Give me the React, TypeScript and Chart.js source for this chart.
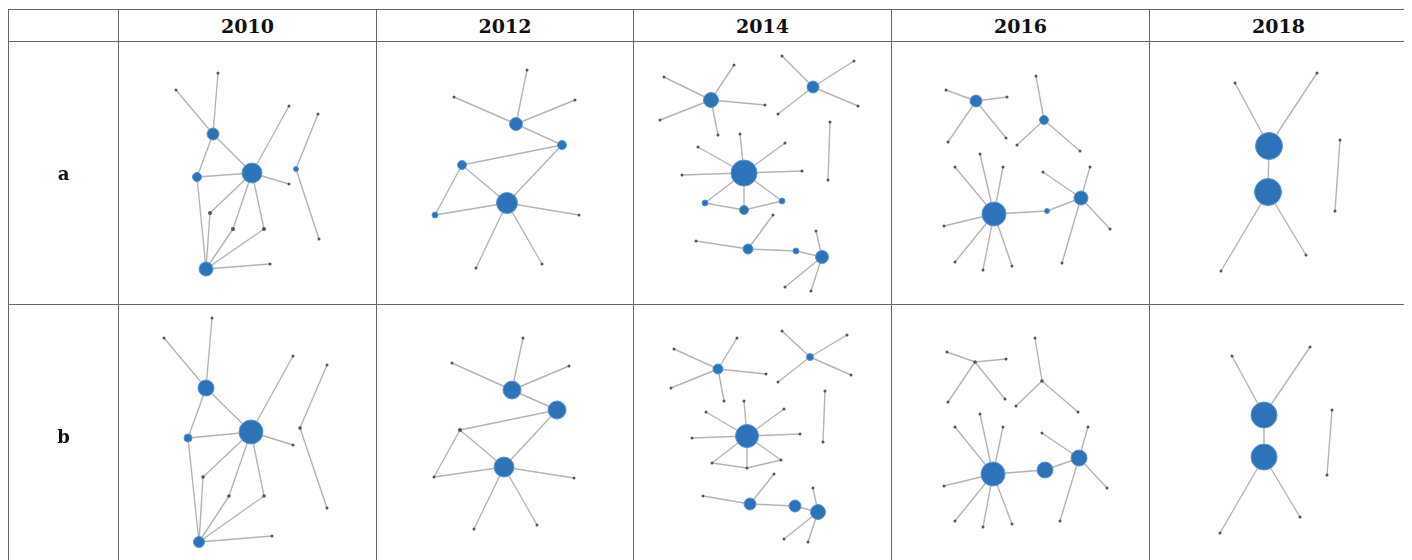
import React, { useEffect, useRef } from "react";
import { Chart, registerables } from "chart.js";
Chart.register(...registerables);

// ---- data ----
const YEARS = ["2010", "2012", "2014", "2016", "2018"];
const ROW_LABELS = ["a", "b"];

type Node = [number, number, number]; // x, y, size
type Edge = [number, number];

const NODES_2010_A: Node[] = [
  [134, 132, 10], [95, 93, 6], [79, 136, 4.5], [88, 228, 7], [100, 32, 1.5], [58, 49, 1.5],
  [171, 65, 1.5], [171, 143, 1.5], [92, 172, 2], [115, 188, 2], [146, 188, 2], [152, 223, 1.5],
  [200, 73, 1.5], [178, 128, 2.5], [201, 198, 1.5],
];
const NODES_2010_B: Node[] = [
  [133, 128, 12], [88, 84, 8], [70, 134, 4], [81, 238, 5.5], [94, 14, 1.5], [46, 34, 1.5],
  [175, 52, 1.5], [175, 141, 1.5], [85, 173, 1.8], [111, 192, 1.8], [146, 192, 1.8], [154, 232, 1.5],
  [209, 61, 1.5], [182, 124, 1.8], [209, 204, 1.5],
];
const EDGES_2010: Edge[] = [
  [4, 1], [5, 1], [1, 0], [1, 2], [2, 0], [2, 3], [0, 6], [0, 7], [0, 8], [0, 9], [0, 10],
  [3, 8], [3, 9], [3, 10], [3, 11], [12, 13], [13, 14],
];

const NODES_2012_A: Node[] = [
  [140, 83, 6.5], [186, 104, 4.5], [86, 124, 4.5], [131, 162, 10.5], [59, 174, 3],
  [151, 29, 1.5], [78, 56, 1.5], [199, 59, 1.5], [203, 174, 1.5], [100, 227, 1.5], [166, 223, 1.5],
];
const NODES_2012_B: Node[] = [
  [136, 86, 9], [181, 106, 9], [84, 126, 2], [128, 163, 10], [58, 173, 1.5],
  [147, 34, 1.5], [76, 59, 1.5], [193, 62, 1.5], [198, 174, 1.5], [98, 225, 1.5], [161, 221, 1.5],
];
const EDGES_2012: Edge[] = [
  [0, 5], [0, 6], [0, 7], [0, 1], [1, 2], [1, 3], [2, 3], [2, 4], [4, 3], [3, 8], [3, 9], [3, 10],
];

const NODES_2014_A: Node[] = [
  [78, 59, 7.5], [101, 24, 1.5], [31, 36, 1.5], [132, 64, 1.5], [27, 79, 1.5], [85, 94, 1.5],
  [180, 46, 6], [149, 15, 1.5], [221, 20, 1.5], [225, 65, 1.5], [145, 73, 1.5],
  [197, 81, 1.5], [195, 139, 1.5],
  [111, 132, 13], [107, 93, 1.5], [65, 106, 1.5], [152, 102, 1.5], [49, 134, 1.5], [169, 130, 1.5],
  [72, 162, 3], [111, 169, 4.5], [149, 160, 3],
  [115, 208, 5], [63, 200, 1.5], [140, 174, 1.5], [163, 210, 3], [189, 216, 6.5],
  [183, 190, 1.5], [152, 246, 1.5], [178, 250, 1.5],
];
const NODES_2014_B: Node[] = [
  [85, 65, 5], [104, 34, 1.5], [41, 45, 1.5], [133, 70, 1.5], [38, 84, 1.5], [91, 97, 1.5],
  [177, 53, 3.5], [149, 27, 1.5], [214, 31, 1.5], [218, 71, 1.5], [145, 78, 1.5],
  [192, 87, 1.5], [190, 138, 1.5],
  [114, 132, 11.5], [111, 97, 1.5], [73, 108, 1.5], [151, 105, 1.5], [59, 134, 1.5], [167, 130, 1.5],
  [79, 159, 1.5], [114, 164, 1.5], [148, 156, 1.5],
  [117, 200, 6], [70, 192, 1.5], [141, 170, 1.5], [162, 202, 6], [185, 208, 7.5],
  [180, 184, 1.5], [151, 235, 1.5], [175, 238, 1.5],
];
const EDGES_2014: Edge[] = [
  [0, 1], [0, 2], [0, 3], [0, 4], [0, 5], [6, 7], [6, 8], [6, 9], [6, 10], [11, 12],
  [13, 14], [13, 15], [13, 16], [13, 17], [13, 18], [13, 19], [13, 20], [13, 21], [19, 20], [20, 21],
  [22, 23], [22, 24], [22, 25], [25, 26], [26, 27], [26, 28], [26, 29],
];

const NODES_2016_A: Node[] = [
  [85, 60, 6], [55, 49, 1.5], [116, 56, 1.5], [57, 101, 1.5], [115, 97, 1.5],
  [153, 79, 4.5], [145, 35, 1.5], [126, 104, 1.5], [189, 110, 1.5],
  [103, 173, 12], [89, 113, 1.5], [64, 126, 1.5], [112, 126, 1.5], [53, 185, 1.5], [64, 221, 1.5],
  [92, 229, 1.5], [121, 225, 1.5],
  [156, 170, 2.5], [190, 157, 7], [152, 131, 1.5], [199, 126, 1.5], [219, 188, 1.5], [171, 222, 1.5],
];
const NODES_2016_B: Node[] = [
  [84, 58, 1.8], [56, 48, 1.5], [115, 55, 1.5], [57, 98, 1.5], [114, 95, 1.5],
  [151, 77, 1.8], [144, 34, 1.5], [125, 102, 1.5], [187, 108, 1.5],
  [102, 170, 12], [89, 110, 1.5], [64, 123, 1.5], [112, 123, 1.5], [53, 182, 1.5], [64, 217, 1.5],
  [92, 223, 1.5], [121, 220, 1.5],
  [154, 166, 8], [188, 154, 8], [151, 129, 1.5], [197, 123, 1.5], [216, 184, 1.5], [169, 217, 1.5],
];
const EDGES_2016: Edge[] = [
  [0, 1], [0, 2], [0, 3], [0, 4], [5, 6], [5, 7], [5, 8],
  [9, 10], [9, 11], [9, 12], [9, 13], [9, 14], [9, 15], [9, 16], [9, 17],
  [17, 18], [18, 19], [18, 20], [18, 21], [18, 22],
];

const NODES_2018_A: Node[] = [
  [120, 105, 13.5], [119, 151, 13.5], [86, 42, 1.5], [168, 32, 1.5], [72, 230, 1.5], [157, 214, 1.5],
  [191, 99, 1.5], [186, 170, 1.5],
];
const NODES_2018_B: Node[] = [
  [115, 111, 13], [115, 153, 13], [83, 52, 1.5], [161, 43, 1.5], [71, 229, 1.5], [151, 213, 1.5],
  [183, 106, 1.5], [178, 171, 1.5],
];
const EDGES_2018: Edge[] = [[0, 2], [0, 3], [0, 1], [1, 4], [1, 5], [6, 7]];

const NETWORKS: { nodes: Node[]; edges: Edge[] }[][] = [
  [
    { nodes: NODES_2010_A, edges: EDGES_2010 },
    { nodes: NODES_2012_A, edges: EDGES_2012 },
    { nodes: NODES_2014_A, edges: EDGES_2014 },
    { nodes: NODES_2016_A, edges: EDGES_2016 },
    { nodes: NODES_2018_A, edges: EDGES_2018 },
  ],
  [
    { nodes: NODES_2010_B, edges: EDGES_2010 },
    { nodes: NODES_2012_B, edges: EDGES_2012 },
    { nodes: NODES_2014_B, edges: EDGES_2014 },
    { nodes: NODES_2016_B, edges: EDGES_2016 },
    { nodes: NODES_2018_B, edges: EDGES_2018 },
  ],
];

// ---- layout ----
const COL_X = [8, 118, 376, 633, 891, 1149, 1407];
const ROW_Y = [9, 41, 304, 567];
const BORDER = "1px solid #666";
const FONT = "'DejaVu Serif', serif";

function NetChart({ nodes, edges, w, h }: { nodes: Node[]; edges: Edge[]; w: number; h: number }) {
  const ref = useRef<HTMLCanvasElement | null>(null);
  useEffect(() => {
    if (!ref.current) return;
    const edgeSets = edges.map(([a, b]) => ({
      data: [
        { x: nodes[a][0], y: nodes[a][1] },
        { x: nodes[b][0], y: nodes[b][1] },
      ],
      showLine: true,
      pointRadius: 0,
      borderColor: "#b4b4b4",
      borderWidth: 1.4,
      order: 1,
    }));
    const nodeSet = {
      data: nodes.map((n) => ({ x: n[0], y: n[1] })),
      showLine: false,
      pointRadius: nodes.map((n) => n[2]),
      pointHoverRadius: nodes.map((n) => n[2]),
      pointBackgroundColor: nodes.map((n) => (n[2] >= 2.5 ? "#2e73b8" : "#50565e")),
      pointBorderColor: nodes.map((n) => (n[2] >= 2.5 ? "#5b95cf" : "#50565e")),
      pointBorderWidth: nodes.map((n) => (n[2] >= 2.5 ? 1 : 0)),
      order: 0,
    };
    const chart = new Chart(ref.current, {
      type: "scatter",
      data: { datasets: [nodeSet as any, ...edgeSets] },
      options: {
        animation: false,
        responsive: false,
        events: [],
        layout: { padding: 0, autoPadding: false } as any,
        plugins: { legend: { display: false }, tooltip: { enabled: false } },
        scales: {
          x: { type: "linear", min: 0, max: w, display: false },
          y: { type: "linear", min: 0, max: h, reverse: true, display: false },
        },
      },
    });
    return () => chart.destroy();
  }, [nodes, edges, w, h]);
  return (
    <canvas
      ref={ref}
      width={w}
      height={h}
      style={{ position: "absolute", left: 0, top: 0, width: w, height: h }}
    />
  );
}

export default function App() {
  const cells: React.ReactNode[] = [];
  const cellBox = (c: number, r: number): React.CSSProperties => ({
    position: "absolute",
    left: COL_X[c] - 8,
    top: ROW_Y[r] - 8,
    width: COL_X[c + 1] - COL_X[c] + 1,
    height: ROW_Y[r + 1] - ROW_Y[r] + 1,
    boxSizing: "border-box",
    border: BORDER,
    display: "flex",
    alignItems: "center",
    justifyContent: "center",
    fontFamily: FONT,
    fontWeight: "bold",
    color: "#111",
  });
  cells.push(<div key="corner" style={cellBox(0, 0)} />);
  YEARS.forEach((yr, i) => {
    cells.push(
      <div key={"h" + yr} style={{ ...cellBox(i + 1, 0), fontSize: 19 }}>
        {yr}
      </div>
    );
  });
  ROW_LABELS.forEach((lab, r) => {
    cells.push(
      <div key={"l" + lab} style={{ ...cellBox(0, r + 1), fontSize: 18 }}>
        {lab}
      </div>
    );
    NETWORKS[r].forEach((net, c) => {
      const w = COL_X[c + 2] - COL_X[c + 1];
      const h = ROW_Y[r + 2] - ROW_Y[r + 1];
      cells.push(
        <div key={"n" + r + c} style={{ ...cellBox(c + 1, r + 1), border: "none", overflow: "hidden" }}>
          <NetChart nodes={net.nodes} edges={net.edges} w={w} h={h} />
        </div>
      );
      cells.push(<div key={"b" + r + c} style={{ ...cellBox(c + 1, r + 1), pointerEvents: "none" }} />);
    });
  });
  return (
    <div style={{ position: "relative", width: 1404, height: 560, overflow: "hidden" }}>
      {cells}
    </div>
  );
}
